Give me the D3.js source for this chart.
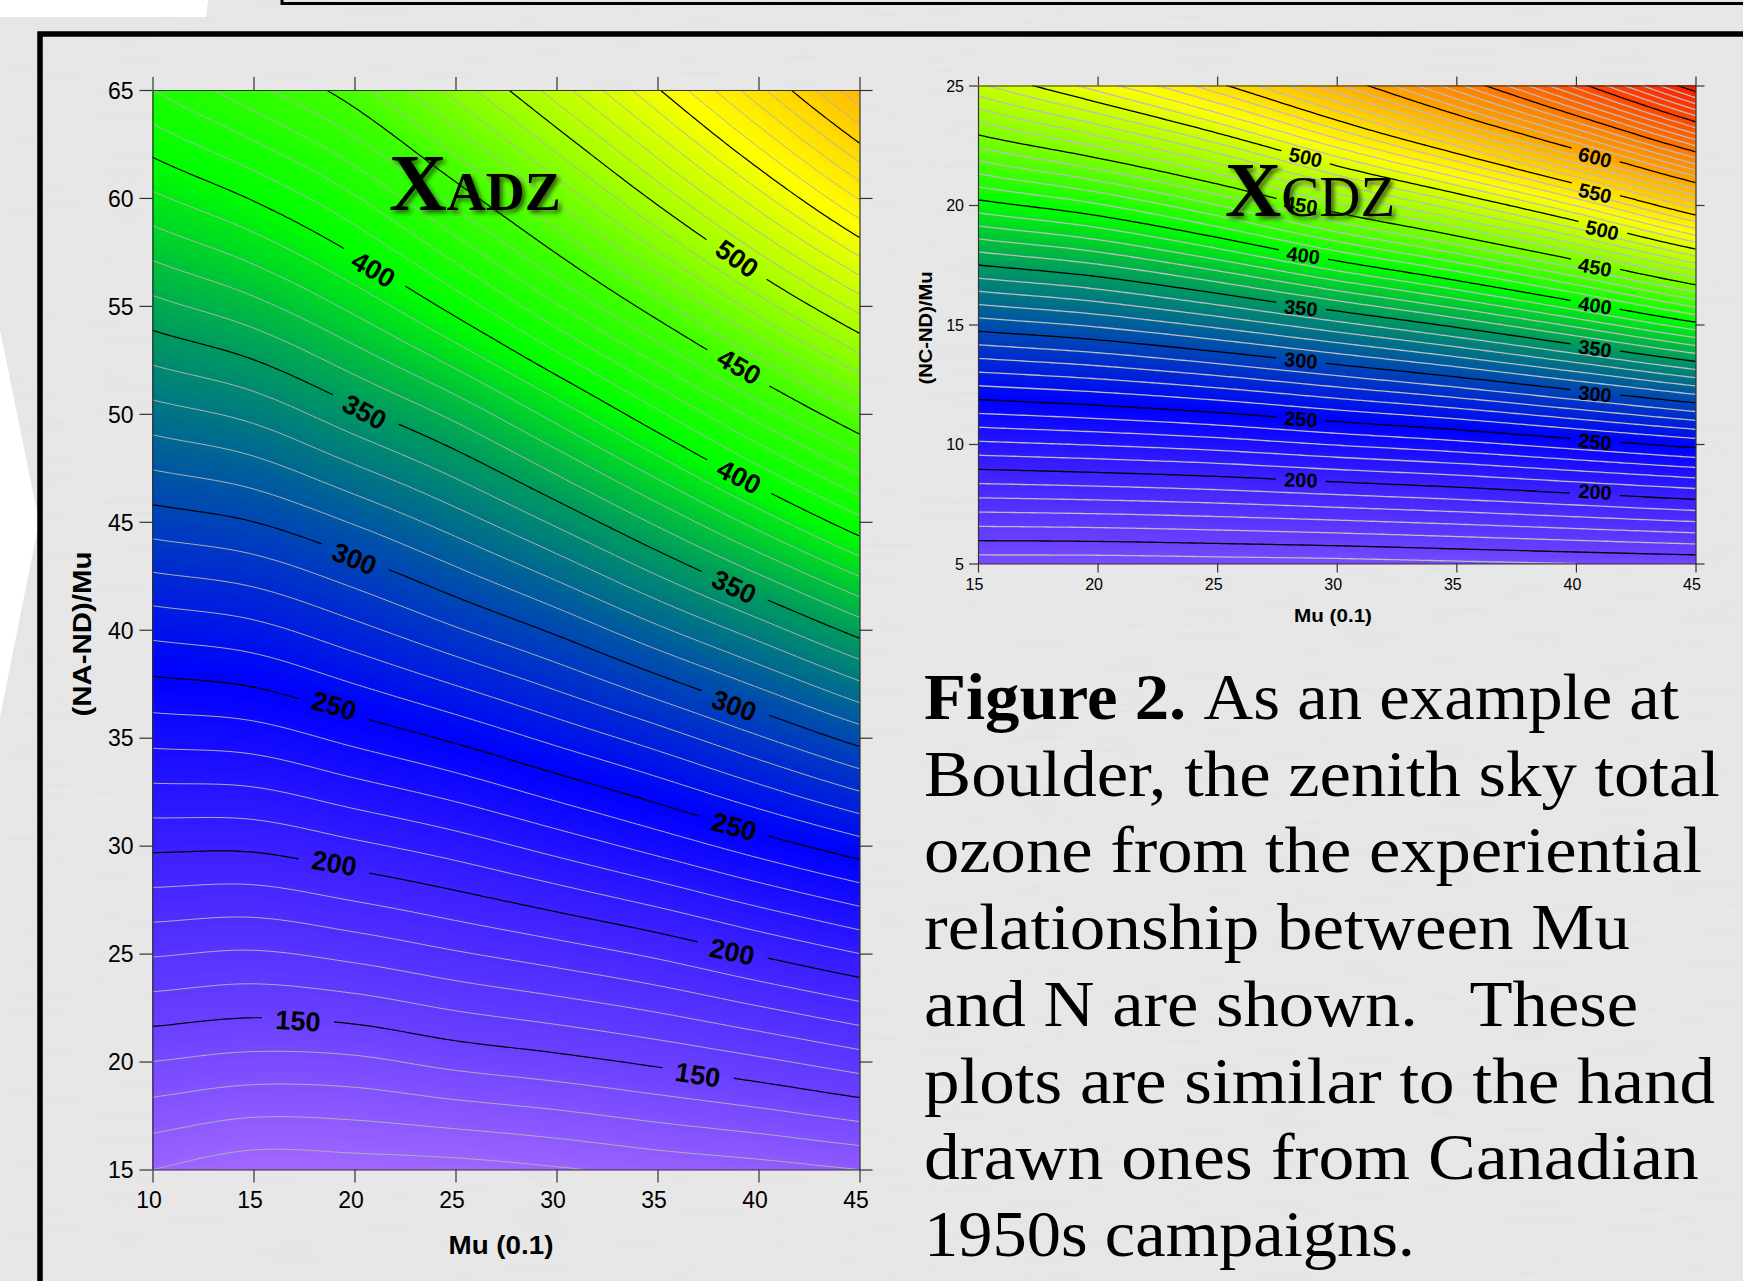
<!DOCTYPE html>
<meta charset="utf-8">
<head>
<title>Xadz and Xcdz ozone contours</title>
<style>
  body { margin: 0; background: #e7e7e7; overflow: hidden; }
  text { font-family: "Liberation Sans", Arial, sans-serif; fill: #000; }
  .serif { font-family: "Liberation Serif", serif; }
</style>
</head>
<body>
<div id="chart"></div>
<script src="https://d3js.org/d3.v7.min.js"></script>
<script>
// left plot, total ozone at each Mu (columns) and N (rows, top row first)
var adzMu = [10, 15, 20, 25, 30, 35, 40, 45];
var adzN = [65, 60, 55, 50, 45, 40, 35, 30, 25, 20, 15];
var adzZ = [
  [420, 437, 456, 484, 515, 549, 587, 628],
  [388, 401, 419, 444, 472, 503, 536, 571],
  [357, 367, 383, 404, 429, 456, 485, 514],
  [326, 333, 347, 363, 384, 408, 434, 460],
  [295, 300, 311, 325, 342, 362, 384, 407],
  [263, 267, 277, 289, 302, 318, 335, 354],
  [233, 235, 243, 252, 263, 275, 289, 304],
  [202, 202, 208, 215, 224, 234, 245, 256],
  [171, 169, 173, 179, 185, 192, 201, 210],
  [140, 137, 138, 143, 147, 152, 158, 165],
  [110, 104, 105, 106, 109, 113, 116, 120]
];
var adzLabelZ = [400, 500, 450, 400, 350, 300, 250, 200, 150, 350, 300, 250, 200, 150];
var adzLabelMu = [20.95, 38.95, 39.05, 39.05, 38.8, 38.8, 38.8, 38.7, 37, 20.5, 20, 19, 19, 17.2];
var adzLabelN = [56.7, 57.2, 52.2, 47.1, 42, 36.5, 30.9, 25.1, 19.4, 50.1, 43.3, 36.5, 29.2, 21.9];
var adzLabelAngle = [30, 35, 30, 27, 25, 20, 15, 12, 9, 28, 22, 16, 10, 3];
var adzColorStops = [110, 150, 200, 250, 300, 350, 400, 450, 500, 555, 630];
var adzColors = ["#9a62ff", "#6a40ff", "#3c20ff", "#0000ff", "#0046b4", "#009a60", "#00ff00",
  "#40ff00", "#a8ff00", "#ffff00", "#ffb800"];

// right plot
var cdzMu = [15, 20, 25, 30, 35, 40, 45];
var cdzN = [25, 20, 15, 10, 5];
var cdzZ = [
  [488, 515, 547, 588, 637, 694, 760],
  [396, 409, 430, 458, 486, 521, 565],
  [305, 312, 323, 337, 353, 373, 397],
  [218, 221, 225, 231, 237, 245, 254],
  [134, 134, 135, 136, 138, 140, 142]
];
var cdzLabelZ = [500, 450, 400, 350, 300, 250, 200, 600, 550, 500, 450, 400, 350, 300, 250, 200];
var cdzLabelMu = [28.7, 28.5, 28.6, 28.5, 28.5, 28.5, 28.5, 40.8, 40.8, 41.1, 40.8, 40.8, 40.8, 40.8, 40.8, 40.8];
var cdzLabelN = [22, 20, 17.9, 15.7, 13.5, 11.05, 8.5, 22, 20.5, 18.95, 17.4, 15.8, 14, 12.1, 10.1, 8];
var cdzLabelAngle = [12, 8, 8, 6, 5, 4, 2, 14, 13, 13, 10, 9, 8, 6, 6, 4];
var cdzColorStops = [130, 150, 200, 250, 300, 350, 400, 450, 520, 600, 650, 700, 770];
var cdzColors = ["#7c50ff", "#6a40ff", "#3c20ff", "#0000ff", "#0046b4", "#009a60", "#00ff00",
  "#7cff00", "#ffff00", "#ffa500", "#ff7800", "#ff4800", "#ff1400"];

var captionLines = ["As an example at", "Boulder, the zenith sky total", "ozone from the experiential",
  "relationship between Mu", "and N are shown.   These", "plots are similar to the hand",
  "drawn ones from Canadian", "1950s campaigns."];

var svg = d3.select("#chart").append("svg")
    .attr("width", 1743)
    .attr("height", 1281);

var defs = svg.append("defs");
var shadow = defs.append("filter").attr("id", "shadow")
    .attr("x", "-10%").attr("y", "-10%").attr("width", "130%").attr("height", "130%");
shadow.append("feDropShadow")
    .attr("dx", 3).attr("dy", 3).attr("stdDeviation", 2)
    .attr("flood-color", "#1c3a00").attr("flood-opacity", 0.75);

// faint horizontal grain like the paper in the slide
var paper = defs.append("filter").attr("id", "paper");
paper.append("feTurbulence").attr("type", "fractalNoise")
    .attr("baseFrequency", "0.012 0.25").attr("numOctaves", 2).attr("seed", 4);
paper.append("feColorMatrix").attr("type", "matrix")
    .attr("values", "0 0 0 0 0  0 0 0 0 0  0 0 0 0 0  0.5 0 0 0 -0.2");
svg.append("rect").attr("width", 1743).attr("height", 1281)
    .attr("filter", "url(#paper)").attr("opacity", 0.05);

// slide background bits
svg.append("path").attr("d", "M0,0H208L206,17H0Z").attr("fill", "#fff");
svg.append("path").attr("d", "M0,330L39,522L0,717Z").attr("fill", "#fff");
svg.append("path").attr("d", "M282,-6V3.5H1750").attr("fill", "none").attr("stroke", "#000").attr("stroke-width", 3);
svg.append("path").attr("d", "M40,1290V34H1750").attr("fill", "none").attr("stroke", "#000").attr("stroke-width", 5.5);

// smooth the table, only so the drawn lines do not kink at grid rows
function catmull(p0, p1, p2, p3, t) {
  return 0.5 * (2 * p1 + (p2 - p0) * t + (2 * p0 - 5 * p1 + 4 * p2 - p3) * t * t + (3 * p1 - p0 - 3 * p2 + p3) * t * t * t);
}
function refine(table, k) {
  var rows = table.length, cols = table[0].length;
  var nx = (cols - 1) * k + 1, ny = (rows - 1) * k + 1;
  var out = new Array(nx * ny);
  function at(r, c) {
    // straight extension past the edge of the table
    var rr = Math.max(0, Math.min(rows - 1, r)), cc = Math.max(0, Math.min(cols - 1, c));
    var v = table[rr][cc];
    if (c < 0) v += table[rr][0] - table[rr][1];
    if (c >= cols) v += table[rr][cols - 1] - table[rr][cols - 2];
    if (r < 0) v += table[0][cc] - table[1][cc];
    if (r >= rows) v += table[rows - 1][cc] - table[rows - 2][cc];
    return v;
  }
  for (var j = 0; j < ny; j++) {
    var r = Math.min(rows - 2, Math.floor(j / k)), tr = j / k - r;
    for (var i = 0; i < nx; i++) {
      var c = Math.min(cols - 2, Math.floor(i / k)), tc = i / k - c;
      var col = [-1, 0, 1, 2].map(function(d) {
        return catmull(at(r + d, c - 1), at(r + d, c), at(r + d, c + 1), at(r + d, c + 2), tc);
      });
      out[j * nx + i] = catmull(col[0], col[1], col[2], col[3], tr);
    }
  }
  return {values: out, nx: nx, ny: ny};
}

function contourPlot(o) {
  var x = d3.scaleLinear().domain(d3.extent(o.mu)).range([o.left, o.right]);
  var y = d3.scaleLinear().domain(d3.extent(o.n)).range([o.bottom, o.top]);
  var color = d3.scaleLinear().domain(o.colorStops).range(o.colors);
  var k = 24;
  var grid = refine(o.z, k);

  // grid sample i sits at contour coordinate i + 0.5
  var gx = d3.scaleLinear().domain([0.5, grid.nx - 0.5]).range([o.left, o.right]);
  var gy = d3.scaleLinear().domain([0.5, grid.ny - 0.5]).range([o.top, o.bottom]);
  var path = d3.geoPath(d3.geoTransform({
    point: function(a, b) { this.stream.point(gx(a), gy(b)); }
  }));
  var contours = function(levels) {
    return d3.contours().size([grid.nx, grid.ny]).thresholds(levels)(grid.values);
  };

  defs.append("clipPath").attr("id", o.id + "-clip").append("rect")
      .attr("x", o.left).attr("y", o.top)
      .attr("width", o.right - o.left).attr("height", o.bottom - o.top);

  var plot = svg.append("g").attr("clip-path", "url(#" + o.id + "-clip)");

  plot.append("rect")
      .attr("x", o.left).attr("y", o.top)
      .attr("width", o.right - o.left).attr("height", o.bottom - o.top)
      .attr("fill", color(d3.min(grid.values)));

  plot.append("g").selectAll("path")
    .data(contours(d3.range(80, 800, 2)))
    .join("path")
      .attr("d", path)
      .attr("fill", function(d) { return color(d.value + 1); });

  plot.append("g").selectAll("path")
    .data(contours(d3.range(60, 800, 10).filter(function(v) { return v % 50 != 0; })))
    .join("path")
      .attr("d", path)
      .attr("fill", "none")
      .attr("stroke", o.grayColor)
      .attr("stroke-width", o.grayWidth);

  // gaps in the black lines where the labels sit
  var mask = defs.append("mask").attr("id", o.id + "-mask").attr("maskUnits", "userSpaceOnUse")
      .attr("x", 0).attr("y", 0).attr("width", 1743).attr("height", 1281);
  mask.append("rect").attr("width", 1743).attr("height", 1281).attr("fill", "#fff");
  mask.selectAll("rect.gap")
    .data(o.labelZ)
    .join("rect")
      .attr("class", "gap")
      .attr("x", -o.gap / 2).attr("y", -o.labelSize)
      .attr("width", o.gap).attr("height", o.labelSize * 2)
      .attr("fill", "#000")
      .attr("transform", function(d, i) {
        return "translate(" + x(o.labelMu[i]) + "," + y(o.labelN[i]) + ") rotate(" + o.labelAngle[i] + ")";
      });

  plot.append("g").attr("mask", "url(#" + o.id + "-mask)").selectAll("path")
    .data(contours(d3.range(50, 800, 50)))
    .join("path")
      .attr("d", path)
      .attr("fill", "none")
      .attr("stroke", "#000")
      .attr("stroke-width", o.blackWidth);

  // title goes under the contour labels
  var title = svg.append("text").attr("class", "serif")
      .attr("x", o.titleX).attr("y", o.titleY)
      .attr("filter", "url(#shadow)")
      .style("font-weight", "bold");
  title.append("tspan").style("font-size", o.titleBig + "px").text("X");
  title.append("tspan").style("font-size", o.titleSmall + "px")
      .style("font-weight", o.titleWeight).text(o.titleRest);

  svg.append("g").selectAll("text")
    .data(o.labelZ)
    .join("text")
      .attr("text-anchor", "middle")
      .attr("dy", "0.36em")
      .attr("transform", function(d, i) {
        return "translate(" + x(o.labelMu[i]) + "," + y(o.labelN[i]) + ") rotate(" + o.labelAngle[i] + ")";
      })
      .style("font-size", o.labelSize + "px")
      .style("font-weight", "bold")
      .text(function(d) { return d; });

  // axes: ticks stick out on all four sides, numbers only left and bottom
  var xTicks = d3.range(d3.min(o.mu), d3.max(o.mu) + 1, 5);
  var yTicks = d3.range(d3.min(o.n), d3.max(o.n) + 1, 5);
  function style(g, size, dx, dy) {
    g.selectAll("path,line").attr("stroke", "#333").attr("stroke-width", 1.2);
    g.selectAll("text").attr("dx", dx).attr("dy", dy).style("font-size", size + "px");
    g.style("font-family", null);
  }
  svg.append("g").attr("transform", "translate(0," + o.bottom + ")")
      .call(d3.axisBottom(x).tickValues(xTicks).tickSize(o.tick).tickPadding(o.padX).tickSizeOuter(0))
      .call(style, o.tickFont, o.xShift, "0.71em");
  svg.append("g").attr("transform", "translate(" + o.left + ",0)")
      .call(d3.axisLeft(y).tickValues(yTicks).tickSize(o.tick).tickPadding(o.padY).tickSizeOuter(0))
      .call(style, o.tickFont, 0, "0.36em");
  svg.append("g").attr("transform", "translate(0," + o.top + ")")
      .call(d3.axisTop(x).tickValues(xTicks).tickSize(o.tick).tickFormat("").tickSizeOuter(0))
      .call(style, o.tickFont, 0, 0);
  svg.append("g").attr("transform", "translate(" + o.right + ",0)")
      .call(d3.axisRight(y).tickValues(yTicks).tickSize(o.tick).tickFormat("").tickSizeOuter(0))
      .call(style, o.tickFont, 0, 0);

  svg.append("text")
      .attr("x", o.xTitleX).attr("y", o.xTitleY)
      .attr("text-anchor", "middle")
      .attr("textLength", o.xTitleLen)
      .attr("lengthAdjust", "spacingAndGlyphs")
      .style("font-size", o.titleFont + "px")
      .style("font-weight", "bold")
      .text("Mu (0.1)");
  svg.append("text")
      .attr("transform", "translate(" + o.yTitleX + "," + o.yTitleY + ") rotate(-90)")
      .attr("text-anchor", "middle")
      .attr("textLength", o.yTitleLen)
      .attr("lengthAdjust", "spacingAndGlyphs")
      .style("font-size", o.titleFont + "px")
      .style("font-weight", "bold")
      .text(o.yTitle);
}

contourPlot({
  id: "adz", mu: adzMu, n: adzN, z: adzZ, colorStops: adzColorStops, colors: adzColors,
  labelZ: adzLabelZ, labelMu: adzLabelMu, labelN: adzLabelN, labelAngle: adzLabelAngle,
  left: 152.5, right: 859.5, top: 90, bottom: 1169.5,
  tick: 13, padX: 9, padY: 6, xShift: -4, tickFont: 23, titleFont: 26,
  labelSize: 27, gap: 72, grayColor: "#b0b0b0", grayWidth: 1, blackWidth: 1.2,
  titleX: 389, titleY: 210, titleBig: 80, titleSmall: 54, titleRest: "ADZ", titleWeight: "bold",
  xTitleX: 501, xTitleY: 1254, xTitleLen: 105, yTitleX: 91, yTitleY: 634, yTitleLen: 165, yTitle: "(NA-ND)/Mu"
});

contourPlot({
  id: "cdz", mu: cdzMu, n: cdzN, z: cdzZ, colorStops: cdzColorStops, colors: cdzColors,
  labelZ: cdzLabelZ, labelMu: cdzLabelMu, labelN: cdzLabelN, labelAngle: cdzLabelAngle,
  left: 978, right: 1695.5, top: 85.5, bottom: 563.5,
  tick: 9, padX: 6, padY: 5, xShift: -4, tickFont: 16, titleFont: 19,
  labelSize: 20, gap: 50, grayColor: "#bcbcbc", grayWidth: 1.3, blackWidth: 1.3,
  titleX: 1225, titleY: 216, titleBig: 78, titleSmall: 57, titleRest: "CDZ", titleWeight: "normal",
  xTitleX: 1333, xTitleY: 622, xTitleLen: 78, yTitleX: 932, yTitleY: 328, yTitleLen: 113, yTitle: "(NC-ND)/Mu"
});

// caption, first line starts with the bold figure number
var captionEnds = [755, 796, 778, 706, 714, 791, 775, 491];
var baseline = d3.scaleLinear().domain([0, 7]).range([719, 1256]);
var caption = svg.append("g").selectAll("text")
  .data(captionLines)
  .join("text")
    .attr("class", "serif")
    .attr("xml:space", "preserve")
    .attr("x", 924)
    .attr("y", function(d, i) { return baseline(i); })
    .attr("textLength", function(d, i) { return captionEnds[i]; })
    .attr("lengthAdjust", "spacingAndGlyphs")
    .style("font-size", "65px")
    .style("white-space", "pre");
caption.each(function(d, i) {
  var t = d3.select(this);
  if (i == 0) t.append("tspan").style("font-weight", "bold").text("Figure 2. ");
  t.append("tspan").text(d);
});
</script>
</body>
